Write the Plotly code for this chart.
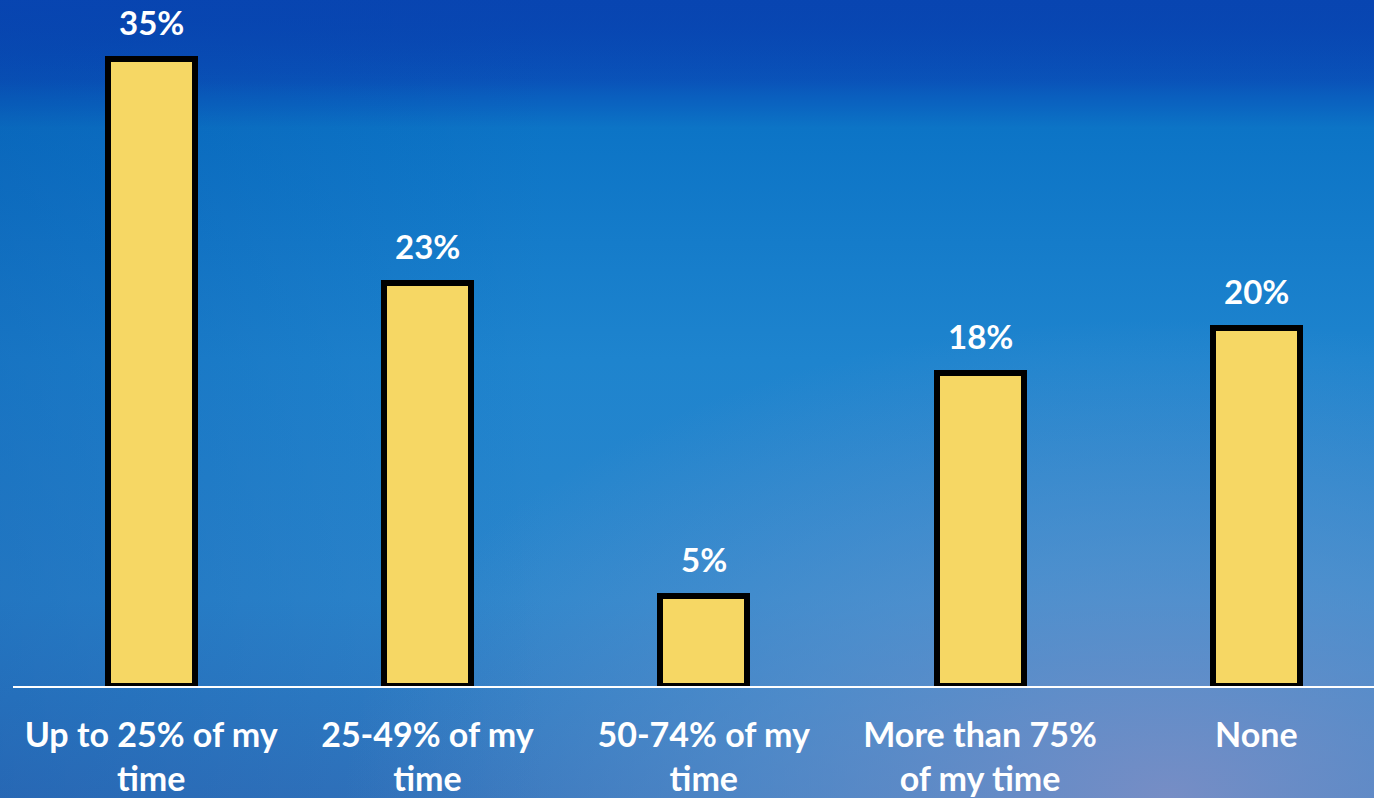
import base64
import plotly.graph_objects as go

categories = ["Up to 25% of my<br>time", "25-49% of my<br>time", "50-74% of my<br>time",
              "More than 75%<br>of my time", "None"]
values = [35, 22.5, 5, 17.5, 20]
labels = ["35%", "23%", "5%", "18%", "20%"]

W, H = 1374, 798
ML, MR, MT, MB = 13, 0, 0, 112

svg = f'''<svg xmlns="http://www.w3.org/2000/svg" width="{W}" height="{H}" viewBox="0 0 {W} {H}" preserveAspectRatio="none">
<defs>
<linearGradient id="v" x1="0" y1="0" x2="0" y2="1">
<stop offset="0" stop-color="#0845B1"/>
<stop offset="0.10" stop-color="#0A55BA"/>
<stop offset="0.13" stop-color="#0A63C0"/>
<stop offset="0.16" stop-color="#0C74C6"/>
<stop offset="0.45" stop-color="#1E84CE"/>
<stop offset="0.75" stop-color="#2C86CC"/>
<stop offset="1" stop-color="#3274BC"/>
</linearGradient>
<linearGradient id="h" x1="0" y1="0" x2="1" y2="0">
<stop offset="0" stop-color="#003C9A" stop-opacity="0.22"/>
<stop offset="0.4" stop-color="#003C9A" stop-opacity="0.0"/>
<stop offset="1" stop-color="#003C9A" stop-opacity="0.0"/>
</linearGradient>
<radialGradient id="r" cx="0.85" cy="1.0" r="0.6">
<stop offset="0" stop-color="#7E90C6" stop-opacity="0.9"/>
<stop offset="0.5" stop-color="#6C98CF" stop-opacity="0.5"/>
<stop offset="1" stop-color="#6C98CF" stop-opacity="0"/>
</radialGradient>
<linearGradient id="t" x1="0" y1="0" x2="0" y2="1">
<stop offset="0" stop-color="#0845B1" stop-opacity="0.9"/>
<stop offset="0.12" stop-color="#0845B1" stop-opacity="0"/>
<stop offset="1" stop-color="#0845B1" stop-opacity="0"/>
</linearGradient>
</defs>
<rect width="{W}" height="{H}" fill="url(#v)"/>
<rect width="{W}" height="{H}" fill="url(#r)"/>
<rect width="{W}" height="{H}" fill="url(#h)"/>
<rect width="{W}" height="{H}" fill="url(#t)"/>
</svg>'''
src = "data:image/svg+xml;base64," + base64.b64encode(svg.encode()).decode()

pw = W - ML - MR
ph = H - MT - MB

FONT = "Lato"

fig = go.Figure()
fig.add_trace(go.Bar(
    x=list(range(len(categories))), y=values, width=0.315,
    marker=dict(color="#F6D764", line=dict(color="black", width=6)),
    hoverinfo="skip",
))

for i, (v, lab) in enumerate(zip(values, labels)):
    fig.add_annotation(x=i, y=v, text=f"<b>{lab}</b>", showarrow=False,
                       yanchor="bottom", yshift=15,
                       font=dict(family=FONT, size=33, color="white"))

fig.add_layout_image(dict(source=src, xref="paper", yref="paper",
                          x=-ML / pw, y=1 + MT / ph, sizex=W / pw, sizey=H / ph,
                          xanchor="left", yanchor="top", sizing="stretch", layer="below"))

fig.update_layout(
    width=W, height=H,
    margin=dict(l=ML, r=MR, t=MT, b=MB, pad=0),
    paper_bgcolor="#1E7CC8", plot_bgcolor="rgba(0,0,0,0)",
    showlegend=False, bargap=0,
    xaxis=dict(range=[-0.5, -0.5 + pw / 276.3], tickmode="array",
               tickvals=list(range(len(categories))),
               ticktext=[f"<b>{c}</b>" for c in categories],
               tickfont=dict(family=FONT, size=34, color="white"),
               showline=True, linecolor="white", linewidth=2,
               ticks="outside", ticklen=18, tickcolor="rgba(0,0,0,0)",
               showgrid=False, zeroline=False, fixedrange=True),
    yaxis=dict(range=[0, ph / 17.91], visible=False, showgrid=False, zeroline=False,
               fixedrange=True),
)

fig.write_html("out.html")
